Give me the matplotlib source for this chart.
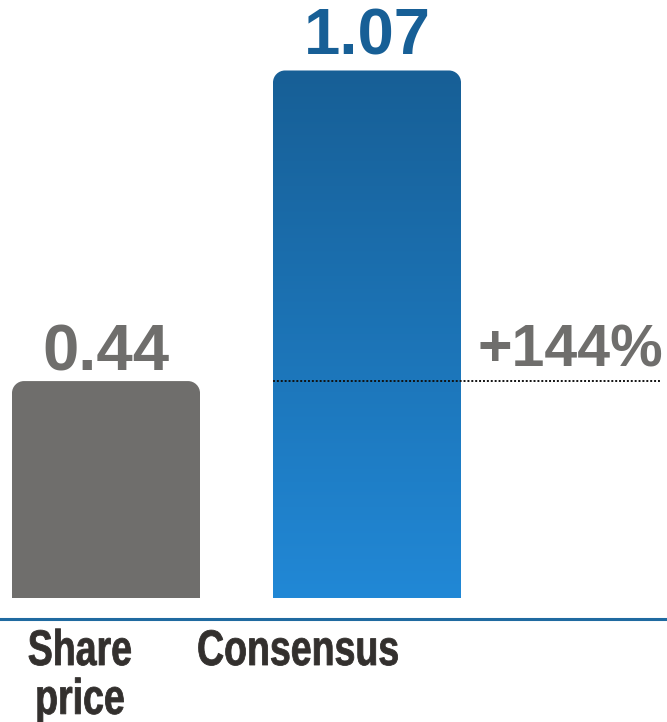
import numpy as np
import matplotlib.pyplot as plt
from matplotlib.path import Path
from matplotlib.patches import PathPatch
from matplotlib.colors import LinearSegmentedColormap
from matplotlib.transforms import Affine2D
import matplotlib.patheffects as pe

categories = ["Share\nprice", "Consensus"]
values = [0.44, 1.07]
upside_label = "+144%"

grey = "#6f6e6c"
blue_top = "#175f96"
blue_bottom = "#2188d6"
dark = "#33302e"

W, H, DPI = 6.67, 7.22, 100
fig = plt.figure(figsize=(W, H), dpi=DPI)
# axes covers the whole width; bottom edge sits on the bar baseline
ax = fig.add_axes([0, 124 / 722, 1, 591 / 722])
px_x = 261.0   # pixels per category step
px_y = 493.0   # pixels per unit of value
x0 = 106.0     # pixel centre of the first bar
xlim = (-x0 / px_x, (667 - x0) / px_x)
ylim = (0, 591 / px_y)
ax.axis("off")

bar_w = 188 / px_x
rx, ry = 12 / px_x, 12 / px_y


def top_rounded_bar(xc, h):
    l, r = xc - bar_w / 2, xc + bar_w / 2
    k = 0.45
    verts = [(l, 0), (l, h - ry),
             (l, h - ry * k), (l + rx * k, h), (l + rx, h),
             (r - rx, h),
             (r - rx * k, h), (r, h - ry * k), (r, h - ry),
             (r, 0), (l, 0)]
    codes = [Path.MOVETO, Path.LINETO,
             Path.CURVE4, Path.CURVE4, Path.CURVE4,
             Path.LINETO,
             Path.CURVE4, Path.CURVE4, Path.CURVE4,
             Path.LINETO, Path.CLOSEPOLY]
    return Path(verts, codes)


class Squeeze(pe.AbstractPathEffect):
    """Narrow the glyphs horizontally around a fixed display x, with a
    thin outline so the strokes keep their weight."""

    def __init__(self, sx, cx, stroke=1.0):
        super().__init__()
        self.sx, self.cx, self.stroke = sx, cx, stroke

    def draw_path(self, renderer, gc, tpath, affine, rgbFace=None):
        squeeze = Affine2D().translate(-self.cx, 0).scale(self.sx, 1).translate(self.cx, 0)
        gc0 = renderer.new_gc()
        gc0.copy_properties(gc)
        gc0.set_linewidth(self.stroke)
        if rgbFace is not None:
            gc0.set_foreground(rgbFace)
        gc0.set_joinstyle("round")
        renderer.draw_path(gc0, tpath, affine + squeeze, rgbFace)
        gc0.restore()


# share price bar: flat grey
p0 = PathPatch(top_rounded_bar(0, values[0]), facecolor=grey, edgecolor="none")
ax.add_patch(p0)

# consensus bar: vertical blue gradient clipped to the bar shape
p1 = PathPatch(top_rounded_bar(1, values[1]), facecolor="none", edgecolor="none")
ax.add_patch(p1)
cmap = LinearSegmentedColormap.from_list("blues", [blue_bottom, blue_top])
grad = np.linspace(0, 1, 256).reshape(-1, 1)
im = ax.imshow(grad, cmap=cmap, origin="lower", aspect="auto",
               extent=(1 - bar_w / 2, 1 + bar_w / 2, 0, values[1]))
im.set_clip_path(p1)
ax.set_xlim(*xlim)
ax.set_ylim(*ylim)

# value labels
ax.annotate(f"{values[0]:.2f}", (0, values[0]), xytext=(0, 11), textcoords="offset pixels",
            ha="center", va="baseline", fontsize=47, fontweight="bold",
            color=grey, family="Liberation Sans")
ax.annotate(f"{values[1]:.2f}", (1, values[1]), xytext=(0, 16), textcoords="offset pixels",
            ha="center", va="baseline", fontsize=47, fontweight="bold",
            color=blue_top, family="Liberation Sans")

# dotted reference line at the share price level
ax.plot([1 - bar_w / 2, (660 - x0) / px_x], [values[0], values[0]],
        linestyle=(0, (1, 1)), color="#111111", lw=1.4)
ax.annotate(upside_label, ((478 - x0) / px_x, values[0]), xytext=(0, 15),
            textcoords="offset pixels", ha="left", va="baseline",
            fontsize=42.5, fontweight="bold", color=grey, family="Liberation Sans")

# baseline under the bars
ax.axhline(-21 / px_y, color="#1f6aa0", lw=2.2, clip_on=False)

# category labels, set in a condensed cut
label_px = [80, 298]
for lpx, name in zip(label_px, categories):
    lx = (lpx - x0) / px_x
    cx = ax.transData.transform((lx, 0))[0]
    ax.text(lx, -31 / px_y, name, ha="center", va="top", fontsize=36,
            fontweight="bold", color=dark, linespacing=1.08,
            family="Liberation Sans", clip_on=False,
            path_effects=[Squeeze(0.75, cx, stroke=0.6)])

fig.savefig("out.png", dpi=DPI)
